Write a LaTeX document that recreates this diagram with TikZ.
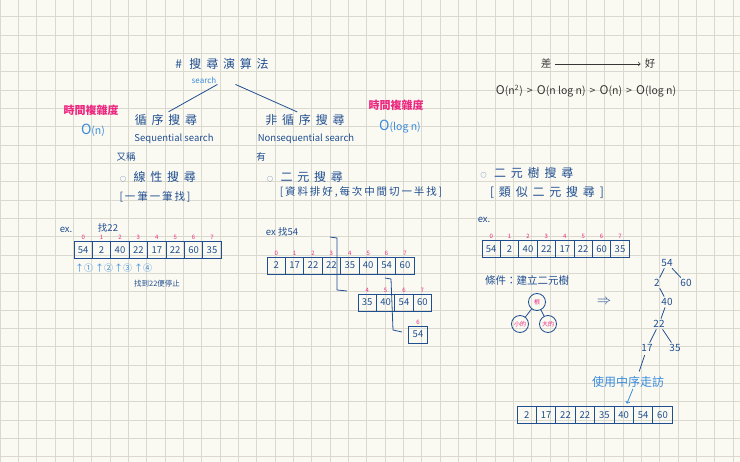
\documentclass[tikz,border=0pt]{standalone}
\usepackage{fontspec}
\setmainfont{Noto Sans CJK TC}
\newfontfamily\headfont[LetterSpace=40]{Noto Sans CJK TC}
\newfontfamily\notefont[LetterSpace=18]{Noto Sans CJK TC}
\usetikzlibrary{positioning}

\definecolor{paper}{RGB}{251,250,242}
\definecolor{gridc}{RGB}{218,217,207}
\definecolor{inkblue}{RGB}{31,78,145}
\definecolor{pinkink}{RGB}{236,40,128}
\definecolor{skyink}{RGB}{58,140,222}
\definecolor{darkink}{RGB}{55,55,55}

\tikzset{
	gridline/.style={draw=gridc, line width=0.8pt},
	head/.style={text=inkblue, font=\headfont\fontsize{12}{14}\selectfont, inner sep=1pt},
	note/.style={text=inkblue, font=\notefont\fontsize{10.5}{12}\selectfont, inner sep=1pt},
	small/.style={text=inkblue, font=\fontsize{9.5}{11}\selectfont, inner sep=1pt},
	pinknote/.style={text=pinkink, font=\bfseries\fontsize{11}{13}\selectfont, inner sep=1pt},
	sky/.style={text=skyink, font=\fontsize{10.5}{12}\selectfont, inner sep=1pt},
	branch/.style={draw=inkblue, line width=0.8pt},
	cell/.style={draw=inkblue, line width=0.8pt, minimum width=18.4pt, minimum height=17pt,
		inner sep=0pt, outer sep=0pt, text=inkblue, font=\fontsize{9.5}{10}\selectfont},
	wide/.style={minimum width=19.4pt},
	idx/.style={text=pinkink, font=\fontsize{6}{6}\selectfont, inner sep=0pt, label distance=1.5pt},
	tnode/.style={text=inkblue, font=\fontsize{10}{11}\selectfont, inner sep=1.5pt},
	circ/.style={circle, draw=inkblue, line width=0.8pt, minimum size=17pt, inner sep=0pt,
		text=pinkink, font=\fontsize{6}{6}\selectfont},
}

\begin{document}
\begin{tikzpicture}[x=1pt,y=-1pt]
	\useasboundingbox[fill=paper] (0,0) rectangle (740,462);
	\begin{scope}
		\clip (0,0) rectangle (740,462);
		\draw[gridline, step=18.33pt, yshift=1.63pt] (0pt,-480pt) grid (750pt,10pt);
	\end{scope}

	% title and the two kinds
	\node[head] (title) at (222,64) {\# 搜尋演算法};
	\node[sky, font=\fontsize{8}{9}\selectfont] (srch) at (204,80) {search};
	\node[head] (seq) at (166,120) {循序搜尋};
	\node[small] (seqen) at (174,139) {Sequential search};
	\node[head] (nonseq) at (305,120) {非循序搜尋};
	\node[small] (nonseqen) at (306,139) {Nonsequential search};
	\draw[branch, shorten >=3pt] (srch.south east) -- (seq.north);
	\draw[branch, shorten >=3pt] ([xshift=18pt]srch.south east) -- ([xshift=-5pt]nonseq.north);

	\node[pinknote] (tcleft) at (91,110) {時間複雜度};
	\node[sky] (oleft) at (93,130) {{\fontsize{14}{14}\selectfont O}(n)};
	\node[pinknote] (tcright) at (396,105) {時間複雜度};
	\node[sky] (oright) at (400,127) {{\fontsize{14}{14}\selectfont O}(log n)};

	\node[small] (aka) at (126,157) {又稱};
	\node[head] (lin) at (158,177) {{\fontsize{6}{6}\selectfont ○} 線性搜尋};
	\node[note] (linb) at (155,197) {[一筆一筆找]};
	\node[small] (have) at (261,157) {有};
	\node[head] (bin) at (305,177) {{\fontsize{6}{6}\selectfont ○} 二元搜尋};
	\node[note] (binb) at (361,192) {[資料排好,每次中間切一半找]};

	% worse to better
	\node[note, text=darkink] (worse) at (546,64) {差};
	\node[note, text=darkink] (better) at (650,64) {好};
	\draw[->, darkink, line width=0.7pt, shorten <=3pt, shorten >=3pt] (worse) -- (better);
	\node[text=darkink, font=\fontsize{10.5}{12}\selectfont, inner sep=1pt] (cmp) at (586,91)
		{{\large O}(n\textsuperscript{2}) \,>\, {\large O}(n log n) \,>\, {\large O}(n) \,>\, {\large O}(log n)};

	% linear search example
	\node[small] (ex1) at (66,230) {ex.};
	\node[small] (find1) at (108,228) {找22};
	\node[cell, label={[idx]above:0}] (a0) at (83.2,250) {54};
	\node[cell, right=0pt of a0, label={[idx]above:1}] (a1) {2};
	\node[cell, right=0pt of a1, label={[idx]above:2}] (a2) {40};
	\node[cell, right=0pt of a2, label={[idx]above:3}] (a3) {22};
	\node[cell, right=0pt of a3, label={[idx]above:4}] (a4) {17};
	\node[cell, right=0pt of a4, label={[idx]above:5}] (a5) {22};
	\node[cell, right=0pt of a5, label={[idx]above:6}] (a6) {60};
	\node[cell, right=0pt of a6, label={[idx]above:7}] (a7) {35};
	\node[sky, font=\fontsize{9}{10}\selectfont] (st1) at (84,268) {↑①};
	\node[sky, font=\fontsize{9}{10}\selectfont] (st2) at (104,268) {↑②};
	\node[sky, font=\fontsize{9}{10}\selectfont] (st3) at (123,268) {↑③};
	\node[sky, font=\fontsize{9}{10}\selectfont] (st4) at (143,268) {↑④};
	\node[small, font=\fontsize{7.5}{8}\selectfont] (stop) at (157,284) {找到22便停止};

	% binary search example
	\node[small] (ex2) at (282,232) {ex 找54};
	\node[cell, label={[idx]above:0}] (b0) at (276.2,265.5) {2};
	\node[cell, right=0pt of b0, label={[idx]above:1}] (b1) {17};
	\node[cell, right=0pt of b1, label={[idx]above:2}] (b2) {22};
	\node[cell, right=0pt of b2, label={[idx]above:3}] (b3) {22};
	\node[cell, right=0pt of b3, label={[idx]above:4}] (b4) {35};
	\node[cell, right=0pt of b4, label={[idx]above:5}] (b5) {40};
	\node[cell, right=0pt of b5, label={[idx]above:6}] (b6) {54};
	\node[cell, right=0pt of b6, label={[idx]above:7}] (b7) {60};
	\draw[branch] (330,237) -- (337,238) -- (337,290) -- (347,291);
	\node[cell, label={[idx]above:4}] (c4) at (367.2,302.5) {35};
	\node[cell, right=0pt of c4, label={[idx]above:5}] (c5) {40};
	\node[cell, right=0pt of c5, label={[idx]above:6}] (c6) {54};
	\node[cell, right=0pt of c6, label={[idx]above:7}] (c7) {60};
	\draw[branch] (385,278) -- (391,279) -- (393,330) -- (402,332);
	\node[cell, label={[idx]above:6}] (d6) at (418,334.5) {54};

	% binary search tree
	\node[head] (bst) at (527,173) {{\fontsize{6}{6}\selectfont ○} 二元樹搜尋};
	\node[head] (bstb) at (547,192) {[類似二元搜尋]};
	\node[small] (ex3) at (484,220) {ex.};
	\node[cell, label={[idx]above:0}] (e0) at (491.2,249) {54};
	\node[cell, right=0pt of e0, label={[idx]above:1}] (e1) {2};
	\node[cell, right=0pt of e1, label={[idx]above:2}] (e2) {40};
	\node[cell, right=0pt of e2, label={[idx]above:3}] (e3) {22};
	\node[cell, right=0pt of e3, label={[idx]above:4}] (e4) {17};
	\node[cell, right=0pt of e4, label={[idx]above:5}] (e5) {22};
	\node[cell, right=0pt of e5, label={[idx]above:6}] (e6) {60};
	\node[cell, right=0pt of e6, label={[idx]above:7}] (e7) {35};
	\node[text=inkblue, font=\fontsize{10.5}{12}\selectfont, inner sep=1pt] (cond) at (527,280) {條件：建立二元樹};
	\node[circ] (root) at (537,302) {根};
	\node[circ] (lkid) at (520,324) {小的};
	\node[circ] (rkid) at (548,324) {大的};
	\draw[branch] (root) -- (lkid);
	\draw[branch] (root) -- (rkid);
	\node[text=inkblue, font=\Large] (imp) at (604,302) {$\Rightarrow$};

	\node[tnode] (t54) at (667,263) {54};
	\node[tnode] (t2) at (657,283) {2};
	\node[tnode] (t60) at (686,283) {60};
	\node[tnode] (t40) at (667,302) {40};
	\node[tnode] (t22) at (659,324) {22};
	\node[tnode] (t17) at (647,348) {17};
	\node[tnode] (t35) at (675,348) {35};
	\draw[branch] (t54) -- (t2);
	\draw[branch] (t54) -- (t60);
	\draw[branch] (t2) -- (t40);
	\draw[branch] (t40) -- (t22);
	\draw[branch] (t22) -- (t17);
	\draw[branch] (t22) -- (t35);

	\node[sky, font=\fontsize{12}{14}\selectfont] (inord) at (628,382) {使用中序走訪};
	\draw[branch, shorten >=4pt, shorten <=2pt] (t17) -- ([xshift=10pt]inord.north);
	\node[cell, wide] (f0) at (526.7,415) {2};
	\node[cell, wide, right=0pt of f0] (f1) {17};
	\node[cell, wide, right=0pt of f1] (f2) {22};
	\node[cell, wide, right=0pt of f2] (f3) {22};
	\node[cell, wide, right=0pt of f3] (f4) {35};
	\node[cell, wide, right=0pt of f4] (f5) {40};
	\node[cell, wide, right=0pt of f5] (f6) {54};
	\node[cell, wide, right=0pt of f6] (f7) {60};
	\draw[->, skyink, line width=0.8pt, shorten >=3pt] ([xshift=5pt]inord.south) -- ([xshift=2pt]f5.north);
\end{tikzpicture}
\end{document}
